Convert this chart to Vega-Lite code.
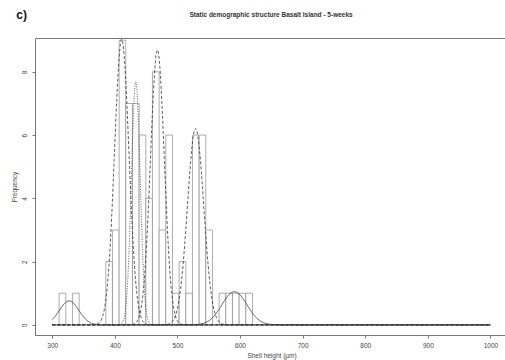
{
  "$schema": "https://vega.github.io/schema/vega-lite/v6.json",
  "autosize": "none",
  "width": 473,
  "height": 297,
  "padding": {"left": 35, "top": 38, "right": 0, "bottom": 25},
  "background": "white",
  "config": {
    "font": "Liberation Sans",
    "view": {"stroke": "#777", "strokeWidth": 1},
    "axis": {"grid": false, "domain": false, "tickColor": "#777", "tickSize": 3, "labelColor": "#444", "labelFontSize": 6.5, "titleColor": "#444", "titleFontSize": 6.5, "titleFontWeight": "normal", "labelFont": "Liberation Sans", "titleFont": "Liberation Sans"}
  },
  "datasets": {
    "bars": [
      {"lo": 311.0, "hi": 321.7, "n": 1},
      {"lo": 332.3, "hi": 343.0, "n": 1},
      {"lo": 385.6, "hi": 396.2, "n": 2},
      {"lo": 396.2, "hi": 406.9, "n": 3},
      {"lo": 406.9, "hi": 417.5, "n": 9},
      {"lo": 417.5, "hi": 428.2, "n": 7},
      {"lo": 428.2, "hi": 438.8, "n": 7},
      {"lo": 438.8, "hi": 449.5, "n": 6},
      {"lo": 449.5, "hi": 460.1, "n": 4},
      {"lo": 460.1, "hi": 470.8, "n": 8},
      {"lo": 470.8, "hi": 481.4, "n": 3},
      {"lo": 481.4, "hi": 492.1, "n": 6},
      {"lo": 492.1, "hi": 502.7, "n": 1},
      {"lo": 502.7, "hi": 513.4, "n": 2},
      {"lo": 513.4, "hi": 524.0, "n": 1},
      {"lo": 524.0, "hi": 534.7, "n": 6},
      {"lo": 534.7, "hi": 545.3, "n": 6},
      {"lo": 545.3, "hi": 556.0, "n": 3},
      {"lo": 566.6, "hi": 577.3, "n": 1},
      {"lo": 577.3, "hi": 587.9, "n": 1},
      {"lo": 587.9, "hi": 598.6, "n": 1},
      {"lo": 598.6, "hi": 609.2, "n": 1},
      {"lo": 609.2, "hi": 619.9, "n": 1}
    ],
    "curves": [
      {"c": "c1", "x": 300, "y": 0.167}, {"c": "c1", "x": 305, "y": 0.278}, {"c": "c1", "x": 310, "y": 0.417}, {"c": "c1", "x": 315, "y": 0.563}, {"c": "c1", "x": 320, "y": 0.686}, {"c": "c1", "x": 323.5, "y": 0.741}, {"c": "c1", "x": 327, "y": 0.76}, {"c": "c1", "x": 330.5, "y": 0.741}, {"c": "c1", "x": 334, "y": 0.686}, {"c": "c1", "x": 339, "y": 0.563}, {"c": "c1", "x": 344, "y": 0.417}, {"c": "c1", "x": 349, "y": 0.278}, {"c": "c1", "x": 354, "y": 0.167}, {"c": "c1", "x": 359, "y": 0.09}, {"c": "c1", "x": 365, "y": 0.038}, {"c": "c1", "x": 372, "y": 0.011}, {"c": "c1", "x": 380, "y": 0.002}, {"c": "c1", "x": 390, "y": 0}, {"c": "c1", "x": 1000, "y": 0},

      {"c": "c2", "x": 300, "y": 0}, {"c": "c2", "x": 356, "y": 0}, {"c": "c2", "x": 365, "y": 0.003}, {"c": "c2", "x": 371, "y": 0.021}, {"c": "c2", "x": 375, "y": 0.067}, {"c": "c2", "x": 379, "y": 0.188}, {"c": "c2", "x": 383, "y": 0.466}, {"c": "c2", "x": 387, "y": 1.02}, {"c": "c2", "x": 391, "y": 1.99}, {"c": "c2", "x": 395, "y": 3.43}, {"c": "c2", "x": 399, "y": 5.24}, {"c": "c2", "x": 403, "y": 7.09}, {"c": "c2", "x": 407, "y": 8.5}, {"c": "c2", "x": 409, "y": 8.89}, {"c": "c2", "x": 411, "y": 9.03}, {"c": "c2", "x": 413, "y": 8.89}, {"c": "c2", "x": 415, "y": 8.5}, {"c": "c2", "x": 419, "y": 7.09}, {"c": "c2", "x": 423, "y": 5.24}, {"c": "c2", "x": 427, "y": 3.43}, {"c": "c2", "x": 431, "y": 1.99}, {"c": "c2", "x": 435, "y": 1.02}, {"c": "c2", "x": 439, "y": 0.466}, {"c": "c2", "x": 443, "y": 0.188}, {"c": "c2", "x": 447, "y": 0.067}, {"c": "c2", "x": 451, "y": 0.021}, {"c": "c2", "x": 457, "y": 0.003}, {"c": "c2", "x": 466, "y": 0}, {"c": "c2", "x": 1000, "y": 0},

      {"c": "c3", "x": 300, "y": 0}, {"c": "c3", "x": 400.5, "y": 0}, {"c": "c3", "x": 405.5, "y": 0.003}, {"c": "c3", "x": 409.5, "y": 0.022}, {"c": "c3", "x": 412.5, "y": 0.085}, {"c": "c3", "x": 415.5, "y": 0.282}, {"c": "c3", "x": 417.5, "y": 0.564}, {"c": "c3", "x": 419.5, "y": 1.04}, {"c": "c3", "x": 421.5, "y": 1.77}, {"c": "c3", "x": 423.5, "y": 2.77}, {"c": "c3", "x": 425.5, "y": 4.0}, {"c": "c3", "x": 427.5, "y": 5.33}, {"c": "c3", "x": 429.5, "y": 6.53}, {"c": "c3", "x": 431.5, "y": 7.38}, {"c": "c3", "x": 433.5, "y": 7.69}, {"c": "c3", "x": 435.5, "y": 7.38}, {"c": "c3", "x": 437.5, "y": 6.53}, {"c": "c3", "x": 439.5, "y": 5.33}, {"c": "c3", "x": 441.5, "y": 4.0}, {"c": "c3", "x": 443.5, "y": 2.77}, {"c": "c3", "x": 445.5, "y": 1.77}, {"c": "c3", "x": 447.5, "y": 1.04}, {"c": "c3", "x": 449.5, "y": 0.564}, {"c": "c3", "x": 451.5, "y": 0.282}, {"c": "c3", "x": 454.5, "y": 0.085}, {"c": "c3", "x": 457.5, "y": 0.022}, {"c": "c3", "x": 461.5, "y": 0.003}, {"c": "c3", "x": 466.5, "y": 0}, {"c": "c3", "x": 1000, "y": 0},

      {"c": "c4", "x": 300, "y": 0}, {"c": "c4", "x": 418, "y": 0}, {"c": "c4", "x": 426, "y": 0.006}, {"c": "c4", "x": 432, "y": 0.041}, {"c": "c4", "x": 436, "y": 0.126}, {"c": "c4", "x": 440, "y": 0.341}, {"c": "c4", "x": 444, "y": 0.805}, {"c": "c4", "x": 448, "y": 1.66}, {"c": "c4", "x": 452, "y": 3.02}, {"c": "c4", "x": 456, "y": 4.8}, {"c": "c4", "x": 460, "y": 6.67}, {"c": "c4", "x": 464, "y": 8.13}, {"c": "c4", "x": 466, "y": 8.55}, {"c": "c4", "x": 468, "y": 8.69}, {"c": "c4", "x": 470, "y": 8.55}, {"c": "c4", "x": 472, "y": 8.13}, {"c": "c4", "x": 476, "y": 6.67}, {"c": "c4", "x": 480, "y": 4.8}, {"c": "c4", "x": 484, "y": 3.02}, {"c": "c4", "x": 488, "y": 1.66}, {"c": "c4", "x": 492, "y": 0.805}, {"c": "c4", "x": 496, "y": 0.341}, {"c": "c4", "x": 500, "y": 0.126}, {"c": "c4", "x": 504, "y": 0.041}, {"c": "c4", "x": 510, "y": 0.006}, {"c": "c4", "x": 518, "y": 0}, {"c": "c4", "x": 1000, "y": 0},

      {"c": "c5", "x": 300, "y": 0}, {"c": "c5", "x": 474, "y": 0}, {"c": "c5", "x": 483, "y": 0.012}, {"c": "c5", "x": 489, "y": 0.055}, {"c": "c5", "x": 493, "y": 0.134}, {"c": "c5", "x": 497, "y": 0.3}, {"c": "c5", "x": 501, "y": 0.611}, {"c": "c5", "x": 505, "y": 1.13}, {"c": "c5", "x": 509, "y": 1.9}, {"c": "c5", "x": 513, "y": 2.91}, {"c": "c5", "x": 517, "y": 4.06}, {"c": "c5", "x": 521, "y": 5.14}, {"c": "c5", "x": 525, "y": 5.92}, {"c": "c5", "x": 529, "y": 6.21}, {"c": "c5", "x": 533, "y": 5.92}, {"c": "c5", "x": 537, "y": 5.14}, {"c": "c5", "x": 541, "y": 4.06}, {"c": "c5", "x": 545, "y": 2.91}, {"c": "c5", "x": 549, "y": 1.9}, {"c": "c5", "x": 553, "y": 1.13}, {"c": "c5", "x": 557, "y": 0.611}, {"c": "c5", "x": 561, "y": 0.3}, {"c": "c5", "x": 565, "y": 0.134}, {"c": "c5", "x": 569, "y": 0.055}, {"c": "c5", "x": 575, "y": 0.012}, {"c": "c5", "x": 584, "y": 0}, {"c": "c5", "x": 1000, "y": 0},

      {"c": "c6", "x": 300, "y": 0}, {"c": "c6", "x": 511, "y": 0}, {"c": "c6", "x": 525, "y": 0.005}, {"c": "c6", "x": 535, "y": 0.021}, {"c": "c6", "x": 543, "y": 0.059}, {"c": "c6", "x": 551, "y": 0.142}, {"c": "c6", "x": 559, "y": 0.292}, {"c": "c6", "x": 567, "y": 0.511}, {"c": "c6", "x": 575, "y": 0.763}, {"c": "c6", "x": 583, "y": 0.969}, {"c": "c6", "x": 591, "y": 1.05}, {"c": "c6", "x": 599, "y": 0.969}, {"c": "c6", "x": 607, "y": 0.763}, {"c": "c6", "x": 615, "y": 0.511}, {"c": "c6", "x": 623, "y": 0.292}, {"c": "c6", "x": 631, "y": 0.142}, {"c": "c6", "x": 639, "y": 0.059}, {"c": "c6", "x": 647, "y": 0.021}, {"c": "c6", "x": 657, "y": 0.005}, {"c": "c6", "x": 671, "y": 0}, {"c": "c6", "x": 1000, "y": 0}
    ],
    "panel": [{"label": "c)"}],
    "heading": [{"label": "Static demographic structure Basalt Island - 5-weeks"}]
  },
  "layer": [
    {
      "data": {"name": "bars"},
      "mark": {"type": "bar", "fill": "white", "stroke": "#8a8a8a", "strokeWidth": 0.7},
      "encoding": {
        "x": {"field": "lo", "type": "quantitative", "scale": {"domain": [272.5, 1028], "nice": false, "zero": false},
              "axis": {"values": [300, 400, 500, 600, 700, 800, 900, 1000], "format": "d", "title": "Shell height (µm)", "labelPadding": 4, "titlePadding": 4}},
        "x2": {"field": "hi"},
        "y": {"field": "n", "type": "quantitative", "scale": {"domain": [-0.32, 9.07], "nice": false, "zero": false},
              "axis": {"values": [0, 2, 4, 6, 8], "title": "Frequency", "labelAngle": -90, "labelAlign": "center", "labelBaseline": "bottom", "labelPadding": 5, "titlePadding": 4}},
        "y2": {"datum": 0}
      }
    },
    {
      "data": {"name": "curves"},
      "mark": {"type": "line", "interpolate": "monotone", "color": "#333", "strokeWidth": 0.8},
      "encoding": {
        "x": {"field": "x", "type": "quantitative"},
        "y": {"field": "y", "type": "quantitative"},
        "detail": {"field": "c", "type": "nominal"},
        "strokeDash": {"field": "c", "type": "nominal", "legend": null,
                       "scale": {"domain": ["c1", "c2", "c3", "c4", "c5", "c6"], "range": [[1, 0], [3, 2], [1, 1.5], [3, 2], [3, 2], [1, 0]]}}
      }
    },
    {
      "data": {"name": "panel"},
      "mark": {"type": "text", "fontSize": 12, "fontWeight": "bold", "color": "#111", "clip": false, "font": "Liberation Sans", "baseline": "middle", "align": "center"},
      "encoding": {
        "text": {"field": "label", "type": "nominal"},
        "x": {"datum": 251, "type": "quantitative"},
        "y": {"datum": 9.8, "type": "quantitative"}
      }
    },
    {
      "data": {"name": "heading"},
      "mark": {"type": "text", "fontSize": 6.5, "fontWeight": "bold", "color": "#333", "clip": false, "font": "Liberation Sans", "baseline": "middle", "align": "center"},
      "encoding": {
        "text": {"field": "label", "type": "nominal"},
        "x": {"datum": 649.5, "type": "quantitative"},
        "y": {"datum": 9.8, "type": "quantitative"}
      }
    }
  ]
}
